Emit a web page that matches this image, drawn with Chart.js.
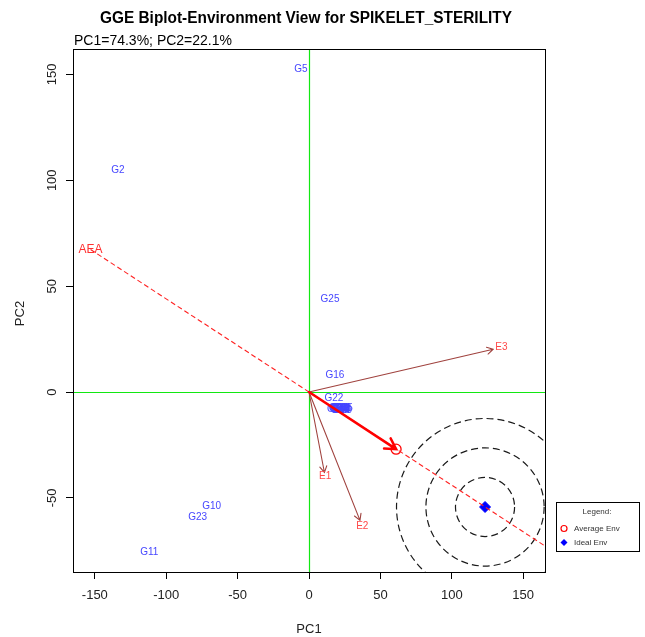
<!DOCTYPE html>
<html>
<head>
<meta charset="utf-8">
<script src="https://cdn.jsdelivr.net/npm/chart.js@4.4.0/dist/chart.umd.min.js"></script>
<style>
  html, body { margin: 0; padding: 0; background: #ffffff; }
  #wrap { width: 645px; height: 637px; }
</style>
</head>
<body>
<div id="wrap"><canvas id="biplot" width="645" height="637"></canvas></div>
<script>
// ---- chart text ----
const titleText = 'GGE Biplot-Environment View for SPIKELET_STERILITY';
const subtitleText = 'PC1=74.3%; PC2=22.1%';
const xAxisTitle = 'PC1';
const yAxisTitle = 'PC2';
const xTicks = [-150, -100, -50, 0, 50, 100, 150];
const yTicks = [-50, 0, 50, 100, 150];
const xRange = [-165.3, 165.3];
const yRange = [-85, 162];

// ---- genotype scores (PC1, PC2) ----
const genotypeNames = ['G2', 'G5', 'G25', 'G16', 'G22', 'G10', 'G23', 'G11',
  'G1', 'G3', 'G4', 'G6', 'G7', 'G8', 'G9', 'G12', 'G13', 'G14', 'G15',
  'G17', 'G18', 'G19', 'G20', 'G21', 'G24'];
const genotypePC1 = [-133.8, -5.6, 14.7, 18.2, 17.5, -68.2, -78.0, -111.9,
  20.1, 21.4, 23.2, 20.6, 22.3, 23.8, 19.6, 21.9, 22.8, 21.0, 24.0,
  19.3, 22.6, 21.7, 23.5, 20.4, 22.1];
const genotypePC2 = [104.7, 152.4, 43.8, 7.9, -3.1, -53.9, -59.1, -75.8,
  -8.0, -7.6, -8.3, -8.4, -7.9, -8.1, -7.7, -8.6, -7.5, -8.1, -7.8,
  -8.3, -8.2, -7.9, -8.6, -7.8, -8.5];

// ---- environment scores (PC1, PC2) ----
const envNames = ['E1', 'E2', 'E3'];
const envPC1 = [10.8, 35.7, 129.0];
const envPC2 = [-38.0, -60.6, 20.2];
const envLabelOffset = 1.045;   // labels sit just beyond the vector tips

// ---- average environment axis ----
const averageEnv = [61.0, -27.0];
const idealEnv = [123.3, -54.3];
const aeaStart = [-153.0, 67.3];
const aeaEnd = [170.0, -74.8];
const circleRadii = [20.7, 41.4, 62.0];

const FONT = '"Liberation Sans", Arial, "DejaVu Sans", sans-serif';
const GENO_COLOR = '#4646ff';
const ENV_TEXT_COLOR = '#ff4848';
const VECTOR_COLOR = '#a0423e';
const AXIS_GREEN = '#12e812';

function arrow(ctx, x0, y0, x1, y1, head, width, color) {
  const a = Math.atan2(y1 - y0, x1 - x0);
  ctx.save();
  ctx.strokeStyle = color;
  ctx.lineWidth = width;
  ctx.lineCap = 'round';
  ctx.beginPath();
  ctx.moveTo(x0, y0);
  ctx.lineTo(x1, y1);
  ctx.moveTo(x1 - head * Math.cos(a - Math.PI / 6), y1 - head * Math.sin(a - Math.PI / 6));
  ctx.lineTo(x1, y1);
  ctx.lineTo(x1 - head * Math.cos(a + Math.PI / 6), y1 - head * Math.sin(a + Math.PI / 6));
  ctx.stroke();
  ctx.restore();
}

const biplotLayer = {
  id: 'biplotLayer',
  beforeDatasetsDraw(chart) {
    const { ctx, chartArea: ca, scales: { x, y } } = chart;
    ctx.save();
    ctx.beginPath();
    ctx.rect(ca.left, ca.top, ca.right - ca.left, ca.bottom - ca.top);
    ctx.clip();
    // origin axes
    const x0 = Math.round(x.getPixelForValue(0)) + 0.5;
    const y0 = Math.round(y.getPixelForValue(0)) + 0.5;
    ctx.strokeStyle = AXIS_GREEN;
    ctx.lineWidth = 1.2;
    ctx.beginPath();
    ctx.moveTo(x0, ca.top); ctx.lineTo(x0, ca.bottom);
    ctx.moveTo(ca.left, y0); ctx.lineTo(ca.right, y0);
    ctx.stroke();
    // concentric circles around the ideal environment
    const cx = x.getPixelForValue(idealEnv[0]);
    const cy = y.getPixelForValue(idealEnv[1]);
    const pxPerUnit = Math.abs(x.getPixelForValue(1) - x.getPixelForValue(0));
    ctx.strokeStyle = '#1a1a1a';
    ctx.lineWidth = 1.2;
    ctx.setLineDash([7, 4]);
    circleRadii.forEach(r => {
      ctx.beginPath();
      ctx.arc(cx, cy, r * pxPerUnit, 0, Math.PI * 2);
      ctx.stroke();
    });
    ctx.setLineDash([]);
    ctx.restore();
  },
  afterDatasetsDraw(chart) {
    const { ctx, chartArea: ca, scales: { x, y } } = chart;
    ctx.save();
    ctx.beginPath();
    ctx.rect(ca.left, ca.top, ca.right - ca.left, ca.bottom - ca.top);
    ctx.clip();
    const ox = x.getPixelForValue(0), oy = y.getPixelForValue(0);
    // environment vectors
    envNames.forEach((n, i) => {
      arrow(ctx, ox, oy, x.getPixelForValue(envPC1[i]), y.getPixelForValue(envPC2[i]), 7, 1.1, VECTOR_COLOR);
    });
    // genotype labels
    ctx.font = '10px ' + FONT;
    ctx.textAlign = 'center';
    ctx.textBaseline = 'middle';
    ctx.fillStyle = GENO_COLOR;
    genotypeNames.forEach((n, i) => {
      ctx.fillText(n, x.getPixelForValue(genotypePC1[i]), y.getPixelForValue(genotypePC2[i]));
    });
    // environment labels
    ctx.fillStyle = ENV_TEXT_COLOR;
    envNames.forEach((n, i) => {
      ctx.fillText(n, x.getPixelForValue(envPC1[i] * envLabelOffset), y.getPixelForValue(envPC2[i] * envLabelOffset));
    });
    // AEA label
    ctx.font = '12px ' + FONT;
    ctx.fillStyle = '#ff3030';
    ctx.fillText('AEA', x.getPixelForValue(aeaStart[0]), y.getPixelForValue(aeaStart[1]));
    // average environment arrow
    arrow(ctx, ox, oy, x.getPixelForValue(averageEnv[0]), y.getPixelForValue(averageEnv[1]), 12, 2.6, '#ff0000');
    ctx.restore();
    // plot frame
    ctx.save();
    ctx.strokeStyle = '#000';
    ctx.lineWidth = 1;
    ctx.strokeRect(Math.round(ca.left) + 0.5, Math.round(ca.top) + 0.5,
      Math.round(ca.right - ca.left), Math.round(ca.bottom - ca.top));
    ctx.restore();
  },
  afterDraw(chart) {
    const { ctx, chartArea: ca, scales: { y } } = chart;
    ctx.save();
    // title, drawn condensed
    ctx.font = 'bold 16px "Liberation Sans Narrow", ' + FONT;
    ctx.fillStyle = '#000';
    ctx.textAlign = 'center';
    ctx.textBaseline = 'alphabetic';
    const tw = ctx.measureText(titleText).width;
    ctx.save();
    ctx.translate(306, 23);
    ctx.scale(412 / tw, 1);
    ctx.fillText(titleText, 0, 0);
    ctx.restore();
    // subtitle
    ctx.font = '14px ' + FONT;
    ctx.textAlign = 'left';
    ctx.fillText(subtitleText, 74, 45);
    // y tick labels (rotated)
    ctx.fillStyle = '#222';
    ctx.font = '13px ' + FONT;
    ctx.textAlign = 'center';
    ctx.textBaseline = 'middle';
    yTicks.forEach(v => {
      ctx.save();
      ctx.translate(52, y.getPixelForValue(v));
      ctx.rotate(-Math.PI / 2);
      ctx.fillText(String(v), 0, 0);
      ctx.restore();
    });
    // axis titles
    ctx.fillText(xAxisTitle, (ca.left + ca.right) / 2, 629);
    ctx.save();
    ctx.translate(20, (ca.top + ca.bottom) / 2 + 3);
    ctx.rotate(-Math.PI / 2);
    ctx.fillText(yAxisTitle, 0, 0);
    ctx.restore();
    // legend box
    ctx.strokeStyle = '#000';
    ctx.lineWidth = 1;
    ctx.strokeRect(556.5, 502.5, 83, 49);
    ctx.font = '8px ' + FONT;
    ctx.fillStyle = '#333';
    ctx.fillText('Legend:', 597, 512);
    ctx.textAlign = 'left';
    ctx.fillText('Average Env', 574, 528.5);
    ctx.fillText('Ideal Env', 574, 542.5);
    ctx.strokeStyle = '#ff0000';
    ctx.lineWidth = 1.2;
    ctx.beginPath();
    ctx.arc(564, 528.5, 3, 0, Math.PI * 2);
    ctx.stroke();
    ctx.fillStyle = '#0000ff';
    ctx.beginPath();
    ctx.moveTo(564, 539); ctx.lineTo(567.5, 542.5); ctx.lineTo(564, 546); ctx.lineTo(560.5, 542.5);
    ctx.closePath();
    ctx.fill();
    ctx.restore();
  }
};

new Chart(document.getElementById('biplot'), {
  type: 'scatter',
  data: {
    datasets: [
      {
        label: 'AEA',
        data: [{ x: aeaStart[0], y: aeaStart[1] }, { x: aeaEnd[0], y: aeaEnd[1] }],
        showLine: true,
        borderColor: '#ff2020',
        borderWidth: 1.1,
        borderDash: [5, 3],
        pointRadius: 0
      },
      {
        label: 'Average Env',
        data: [{ x: averageEnv[0], y: averageEnv[1] }],
        pointStyle: 'circle',
        pointRadius: 5,
        borderColor: '#ff0000',
        borderWidth: 1.3,
        backgroundColor: 'rgba(0,0,0,0)'
      },
      {
        label: 'Ideal Env',
        data: [{ x: idealEnv[0], y: idealEnv[1] }],
        pointStyle: 'rectRot',
        pointRadius: 5.5,
        borderColor: '#0000ff',
        borderWidth: 1,
        backgroundColor: '#0000ff'
      }
    ]
  },
  options: {
    responsive: false,
    animation: false,
    devicePixelRatio: 1,
    layout: { padding: { left: 0, top: 49, right: 100, bottom: 0 } },
    plugins: { legend: { display: false }, tooltip: { enabled: false } },
    scales: {
      x: {
        type: 'linear',
        min: xRange[0],
        max: xRange[1],
        afterBuildTicks: s => { s.ticks = xTicks.map(v => ({ value: v })); },
        afterFit: s => { s.height = 65; },
        grid: { drawOnChartArea: false, drawTicks: true, tickLength: 7, color: '#000', lineWidth: 1 },
        border: { display: false },
        ticks: { color: '#222', font: { size: 13, family: FONT }, padding: 9, maxRotation: 0, autoSkip: false }
      },
      y: {
        type: 'linear',
        min: yRange[0],
        max: yRange[1],
        afterBuildTicks: s => { s.ticks = yTicks.map(v => ({ value: v })); },
        afterFit: s => { s.width = 73; },
        grid: { drawOnChartArea: false, drawTicks: true, tickLength: 7, color: '#000', lineWidth: 1 },
        border: { display: false },
        ticks: { display: false }
      }
    }
  },
  plugins: [biplotLayer]
});
</script>
</body>
</html>
